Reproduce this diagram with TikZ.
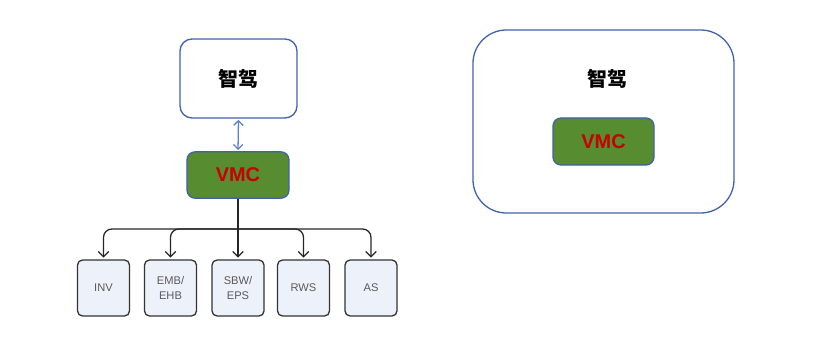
\documentclass[tikz,border=0pt]{standalone}
\usepackage{fontspec}
\setmainfont{Liberation Sans}
\newfontfamily\cjk{Noto Sans CJK SC}
\usetikzlibrary{arrows.meta,calc}
\definecolor{FrameClr}{rgb}{0.25,0.38,0.67}
\definecolor{LinkClr}{rgb}{0.36,0.5,0.82}
\definecolor{VmcClr}{rgb}{0.34,0.55,0.19}
\definecolor{VmcText}{rgb}{0.78,0,0}
\definecolor{EcuClr}{rgb}{0.93,0.95,0.98}
\definecolor{EcuText}{rgb}{0.35,0.35,0.35}

\begin{document}
\begin{tikzpicture}[x=0.03cm,y=-0.03cm,
  adas/.style={draw=FrameClr,line width=1.1pt,fill=white,rounded corners=0.36cm,
    minimum width=3.51cm,minimum height=2.37cm,font=\cjk\bfseries\fontsize{17}{20}\selectfont},
  vmcbox/.style={draw=FrameClr,line width=1.1pt,fill=VmcClr,rounded corners=0.24cm,
    minimum width=3.06cm,minimum height=1.39cm,text=VmcText,font=\bfseries\fontsize{17}{20}\selectfont},
  ecu/.style={draw=black!80,line width=1.1pt,fill=EcuClr,rounded corners=0.15cm,
    minimum width=1.56cm,minimum height=1.68cm,text=EcuText,align=center,
    font=\fontsize{9.5}{13}\selectfont},
  branch/.style={draw=black!85,line width=1.1pt,rounded corners=0.25cm,
    -{Straight Barb[length=4.5pt,width=9pt]},shorten >=1.5pt},
  link/.style={draw=LinkClr,line width=1.1pt,
    {Straight Barb[length=4pt,width=8pt]}-{Straight Barb[length=4pt,width=8pt]},shorten >=1pt,shorten <=1pt}]
\useasboundingbox (0,0) rectangle (830,338);

\node[adas] (zj) at (238.5,78.5) {智驾};
\node[vmcbox] (vmc) at (238,175) {VMC};
\draw[link] (zj.south) -- (vmc.north);

\node[ecu] (inv) at (103.5,288) {INV};
\node[ecu] (emb) at (170.5,288) {EMB/\\EHB};
\node[ecu] (sbw) at (238,288) {SBW/\\EPS};
\node[ecu] (rws) at (303.5,288) {RWS};
\node[ecu] (as) at (371,288) {AS};

\coordinate (hub) at (238,229);
\draw[branch] (vmc.south) -- (sbw.north);
\foreach \b in {inv,emb,rws,as}
  \draw[branch] (hub) -| (\b.north);

\node[adas,minimum width=7.83cm,minimum height=5.49cm,rounded corners=1cm] (zj2) at (603.5,121.5) {};
\node[font=\cjk\bfseries\fontsize{17}{20}\selectfont] (zjl) at (607,79) {智驾};
\node[vmcbox,minimum width=3.03cm,minimum height=1.41cm] (vmc2) at (603.5,141.5) {VMC};

\end{tikzpicture}
\end{document}
